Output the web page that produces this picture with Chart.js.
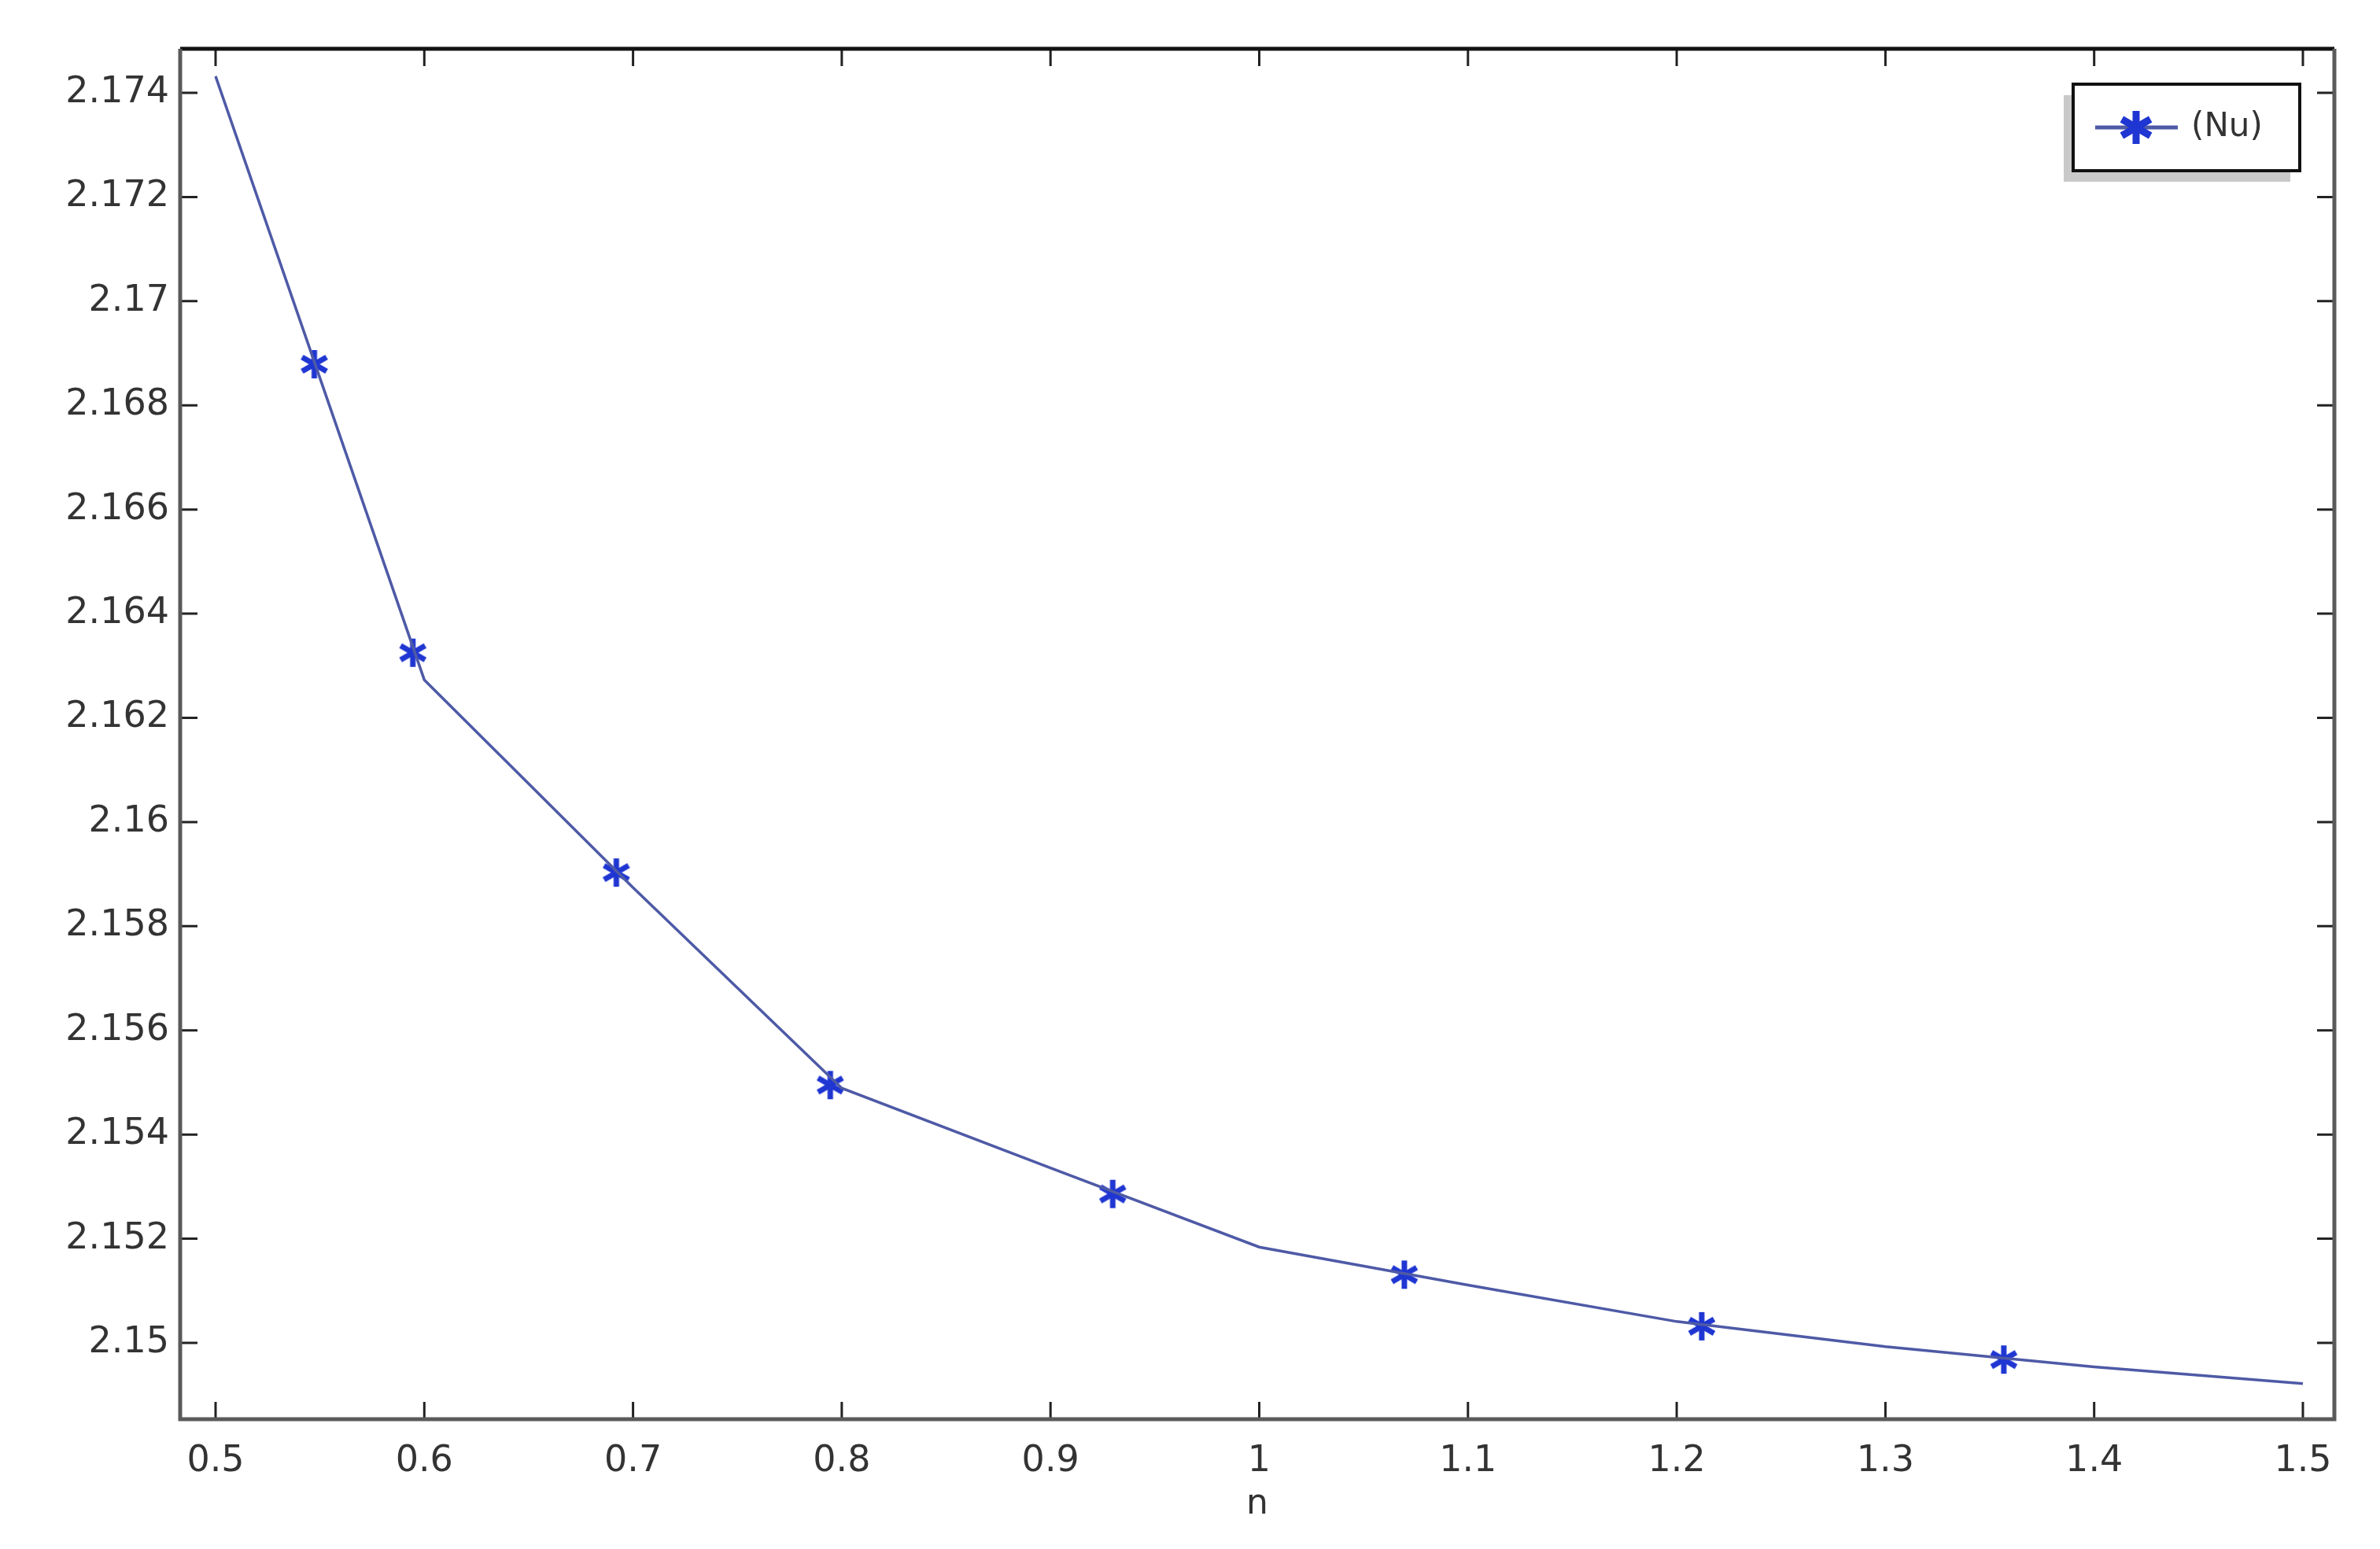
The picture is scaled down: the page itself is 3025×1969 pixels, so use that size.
<!DOCTYPE html>
<html>
<head>
<meta charset="utf-8">
<script src="https://cdn.jsdelivr.net/npm/chart.js@4.4.1/dist/chart.umd.min.js"></script>
<style>
  html, body { margin: 0; padding: 0; background: #fff; }
  #wrap { width: 3025px; height: 1969px; }
</style>
</head>
<body>
<div id="wrap"><canvas id="chart" width="3025" height="1969"></canvas></div>
<script>
// values
var xTicks = [0.5, 0.6, 0.7, 0.8, 0.9, 1.0, 1.1, 1.2, 1.3, 1.4, 1.5];
var yTicks = [2.15, 2.152, 2.154, 2.156, 2.158, 2.16, 2.162, 2.164, 2.166, 2.168, 2.17, 2.172, 2.174];

var lineN  = [0.5, 0.6, 0.7, 0.8, 0.9, 1.0, 1.1, 1.2, 1.3, 1.4, 1.5];
var lineNu = [2.17432, 2.16273, 2.15874, 2.15489, 2.15336, 2.15184, 2.15111, 2.15041, 2.14993, 2.14954, 2.14922];

var markN  = [0.5473, 0.5945, 0.692, 0.7945, 0.9298, 1.0695, 1.212, 1.3567];
var markNu = [2.16879, 2.16325, 2.15903, 2.15495, 2.15286, 2.15131, 2.15032, 2.14968];

var seriesLabel = '(Nu)';
var axisTitle = 'n';

var lineColor = '#4e5aa6';
var markColor = '#1f36d2';
var fontFamily = "'DejaVu Sans', 'Liberation Sans', sans-serif";

// six armed asterisk marker
function asterisk(r, color, lw) {
    var c = document.createElement('canvas');
    var s = Math.ceil(2 * r + lw * 2);
    c.width = s; c.height = s;
    var g = c.getContext('2d');
    g.strokeStyle = color;
    g.lineWidth = lw;
    g.lineCap = 'butt';
    for (var k = 0; k < 3; k++) {
        var a = Math.PI / 2 + k * Math.PI / 3;
        g.beginPath();
        g.moveTo(s / 2 + r * Math.cos(a), s / 2 + r * Math.sin(a));
        g.lineTo(s / 2 - r * Math.cos(a), s / 2 - r * Math.sin(a));
        g.stroke();
    }
    return c;
}
var marker = asterisk(18, markColor, 7);

function pts(xs, ys) {
    return xs.map(function (x, i) { return { x: x, y: ys[i] }; });
}

var frame = {
    id: 'frame',
    afterDraw: function (chart) {
        var ctx = chart.ctx, a = chart.chartArea;
        var xs = chart.scales.x, ys = chart.scales.y;
        ctx.save();
        // inward tick marks on all four sides
        ctx.strokeStyle = '#222';
        ctx.lineWidth = 3;
        var tl = 22;
        xTicks.forEach(function (v) {
            var px = xs.getPixelForValue(v);
            ctx.beginPath();
            ctx.moveTo(px, a.bottom); ctx.lineTo(px, a.bottom - tl);
            ctx.moveTo(px, a.top); ctx.lineTo(px, a.top + tl);
            ctx.stroke();
        });
        yTicks.forEach(function (v) {
            var py = ys.getPixelForValue(v);
            ctx.beginPath();
            ctx.moveTo(a.left, py); ctx.lineTo(a.left + tl, py);
            ctx.moveTo(a.right, py); ctx.lineTo(a.right - tl, py);
            ctx.stroke();
        });
        // box
        ctx.lineWidth = 5;
        ctx.strokeStyle = '#111';
        ctx.beginPath();
        ctx.moveTo(a.left, a.top); ctx.lineTo(a.right, a.top);
        ctx.stroke();
        ctx.strokeStyle = '#5a5a5a';
        ctx.beginPath();
        ctx.moveTo(a.right, a.top); ctx.lineTo(a.right, a.bottom);
        ctx.lineTo(a.left, a.bottom); ctx.lineTo(a.left, a.top);
        ctx.stroke();

        // legend box with shadow
        var bx = a.right - 332, by = a.top + 45, bw = 288, bh = 110;
        ctx.fillStyle = '#c9c9c9';
        ctx.fillRect(bx - 12, by + 14, bw, bh);
        ctx.fillStyle = '#fff';
        ctx.fillRect(bx, by, bw, bh);
        ctx.lineWidth = 4;
        ctx.strokeStyle = '#111';
        ctx.strokeRect(bx, by, bw, bh);
        var cy = by + bh / 2;
        ctx.strokeStyle = lineColor;
        ctx.lineWidth = 5;
        ctx.beginPath();
        ctx.moveTo(bx + 28, cy); ctx.lineTo(bx + 133, cy);
        ctx.stroke();
        var big = asterisk(21, markColor, 9);
        ctx.drawImage(big, bx + 80 - big.width / 2, cy - big.height / 2);
        ctx.fillStyle = '#333';
        ctx.font = '42px ' + fontFamily;
        ctx.textAlign = 'left';
        ctx.textBaseline = 'middle';
        ctx.fillText(seriesLabel, bx + 150, cy);
        ctx.restore();
    }
};

new Chart(document.getElementById('chart'), {
    type: 'scatter',
    data: {
        datasets: [{
            label: seriesLabel,
            data: pts(lineN, lineNu),
            showLine: true,
            borderColor: lineColor,
            borderWidth: 3.5,
            pointRadius: 0,
            tension: 0
        }, {
            label: seriesLabel + ' markers',
            data: pts(markN, markNu),
            showLine: false,
            pointStyle: marker,
            pointRadius: 18
        }]
    },
    options: {
        responsive: false,
        animation: false,
        layout: { padding: { left: 0, top: 62, right: 58, bottom: 0 } },
        plugins: {
            legend: { display: false },
            tooltip: { enabled: false }
        },
        scales: {
            x: {
                type: 'linear',
                min: 0.48304,
                max: 1.51508,
                grid: { display: false, drawTicks: false },
                border: { display: false },
                afterBuildTicks: function (s) { s.ticks = xTicks.map(function (v) { return { value: v }; }); },
                afterFit: function (s) { s.height = 165; },
                ticks: {
                    padding: 26,
                    color: '#333',
                    font: { family: fontFamily, size: 46 },
                    maxRotation: 0,
                    callback: function (v) { return String(parseFloat(v.toFixed(3))); }
                },
                title: {
                    display: true,
                    text: axisTitle,
                    color: '#333',
                    font: { family: fontFamily, size: 44 },
                    padding: { top: 0, bottom: 30 }
                }
            },
            y: {
                type: 'linear',
                min: 2.148535,
                max: 2.174846,
                grid: { display: false, drawTicks: false },
                border: { display: false },
                afterBuildTicks: function (s) { s.ticks = yTicks.map(function (v) { return { value: v }; }); },
                afterFit: function (s) { s.width = 229; },
                ticks: {
                    padding: 14,
                    color: '#333',
                    font: { family: fontFamily, size: 46 },
                    callback: function (v) { return String(parseFloat(v.toFixed(3))); }
                }
            }
        }
    },
    plugins: [frame]
});
</script>
</body>
</html>
